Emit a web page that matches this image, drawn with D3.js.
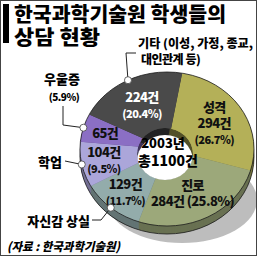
<!DOCTYPE html>
<html>
<head>
<meta charset="utf-8">
<script src="https://cdn.jsdelivr.net/npm/d3@7"></script>
<style>
  html, body { margin: 0; padding: 0; background: #fff; }
  svg { display: block; }
  text { font-family: "Noto Sans CJK KR", "Noto Sans", sans-serif; font-weight: 900; }
</style>
</head>
<body>
<script>
// chart data
const categories = ["성격", "진로", "자신감 상실", "학업", "우울증", "기타"];
const counts = [294, 284, 129, 104, 65, 224];
const percents = [26.7, 25.8, 11.7, 9.5, 5.9, 20.4];
const colors = ["#b4b058", "#9ca87a", "#93acab", "#aba6da", "#8b6fc4", "#4a4a4a"];
const titleLines = ["한국과학기술원 학생들의", "상담 현황"];
const centerLines = ["2003년", "총1100건"];
const etcDetail = ["기타 (이성, 가정, 종교,", "대인관계 등)"];
const sourceText = "(자료 : 한국과학기술원)";

const W = 258, H = 258;
const cx = 167, cy = 149, rx = 87, ry = 77, depth = 8;
const hole = { cx: 165, cy: 154, rx: 28, ry: 26, wall: 7 };

const svg = d3.select("body").append("svg")
    .attr("width", W)
    .attr("height", H);

const deg = Math.PI / 180;
const pie = d3.pie().sort(null).value(d => d)
    .startAngle(10 * deg).endAngle(370 * deg);
const slices = pie(counts);
const unitArc = d3.arc().innerRadius(0).outerRadius(1);

// point on the ellipse at angle a (clockwise from top) and relative radius r
function onEllipse(a, r) {
    return [cx + rx * r * Math.sin(a), cy - ry * r * Math.cos(a)];
}
function midAngle(d) { return (d.startAngle + d.endAngle) / 2; }

// shadow
svg.append("ellipse")
    .attr("cx", 182).attr("cy", 200)
    .attr("rx", 75).attr("ry", 43)
    .attr("fill", "#bdbdbd");

// 3d side: stack of darker pies
for (let k = depth; k >= 1; k--) {
    svg.append("g")
        .attr("transform", "translate(" + cx + "," + (cy + k) + ") scale(" + rx + "," + ry + ")")
        .selectAll("path")
        .data(slices)
        .enter().append("path")
        .attr("d", unitArc)
        .attr("fill", (d, i) => d3.color(colors[i]).darker(1.1));
}
svg.append("ellipse")
    .attr("cx", cx).attr("cy", cy + depth)
    .attr("rx", rx).attr("ry", ry)
    .attr("fill", "none").attr("stroke", "#1a1a1a").attr("stroke-width", 0.8);

// top face
svg.append("g")
    .attr("transform", "translate(" + cx + "," + cy + ") scale(" + rx + "," + ry + ")")
    .selectAll("path")
    .data(slices)
    .enter().append("path")
    .attr("d", unitArc)
    .attr("fill", (d, i) => colors[i]);
svg.append("ellipse")
    .attr("cx", cx).attr("cy", cy)
    .attr("rx", rx).attr("ry", ry)
    .attr("fill", "none").attr("stroke", "#1a1a1a").attr("stroke-width", 0.8);

// hole with visible inner wall
svg.append("clipPath").attr("id", "holeClip")
    .append("ellipse")
    .attr("cx", hole.cx).attr("cy", hole.cy)
    .attr("rx", hole.rx).attr("ry", hole.ry);
const holeG = svg.append("g").attr("clip-path", "url(#holeClip)");
holeG.append("g")
    .attr("transform", "translate(" + hole.cx + "," + hole.cy + ") scale(" + hole.rx + "," + hole.ry + ")")
    .selectAll("path")
    .data(slices)
    .enter().append("path")
    .attr("d", unitArc)
    .attr("fill", (d, i) => d3.color(colors[i]).darker(2.2));
holeG.append("ellipse")
    .attr("cx", hole.cx).attr("cy", hole.cy + hole.wall)
    .attr("rx", hole.rx).attr("ry", hole.ry)
    .attr("fill", "#fff");

// centre text
svg.append("text")
    .attr("x", 163).attr("y", 148)
    .attr("text-anchor", "middle")
    .attr("font-size", 13)
    .text(centerLines[0]);
svg.append("text")
    .attr("x", 168).attr("y", 166)
    .attr("text-anchor", "middle")
    .attr("font-size", 14)
    .text(centerLines[1]);

// labels inside slices
function labelLines(i) {
    const c = counts[i] + "건", p = "(" + percents[i] + "%)";
    if (i === 0) return [categories[i], c, p];
    if (i === 1) return [categories[i], c + " " + p];
    if (i === 4) return [c];
    return [c, p];
}
slices.forEach((d, i) => {
    const lines = labelLines(i);
    const r = percents[i] > 15 ? 0.64 : 0.74;
    const pos = onEllipse(midAngle(d), r);
    const lh = 16;
    const top = pos[1] - (lines.length - 1) * lh / 2;
    lines.forEach((t, j) => {
        svg.append("text")
            .attr("x", pos[0]).attr("y", top + j * lh + 5)
            .attr("text-anchor", "middle")
            .attr("font-size", t.startsWith("(") ? 11 : 13)
            .attr("letter-spacing", -0.6)
            .attr("fill", i === 5 ? "#fff" : "#111")
            .text(t);
    });
});

// outside labels with leader lines
const leader = d3.line();
function dotAt(i) { return onEllipse(midAngle(slices[i]), 1); }

const outside = [
    { i: 5, path: [[136, 53], [126, 53]] },
    { i: 4, path: [[63, 106], [63, 125]] },
    { i: 3, path: [[65, 161]] },
    { i: 2, path: [[92, 220], [101, 220]] }
];
outside.forEach(o => {
    const dot = dotAt(o.i);
    svg.append("path")
        .attr("d", leader(o.path.concat([dot])))
        .attr("fill", "none").attr("stroke", "#222").attr("stroke-width", 1);
    svg.append("circle")
        .attr("cx", dot[0]).attr("cy", dot[1]).attr("r", 3.5)
        .attr("fill", "#fff").attr("stroke", "#444").attr("stroke-width", 0.8);
});

// 기타 label
svg.append("text").attr("x", 138).attr("y", 48)
    .attr("font-size", 12).attr("textLength", 115).attr("lengthAdjust", "spacingAndGlyphs")
    .text(etcDetail[0]);
svg.append("text").attr("x", 141).attr("y", 64)
    .attr("font-size", 12).attr("letter-spacing", -0.5)
    .text(etcDetail[1]);
// 우울증 label
svg.append("text").attr("x", 62).attr("y", 84)
    .attr("text-anchor", "middle").attr("font-size", 13)
    .text(categories[4]);
svg.append("text").attr("x", 64).attr("y", 101)
    .attr("text-anchor", "middle").attr("font-size", 10).attr("letter-spacing", -0.5)
    .text("(" + percents[4] + "%)");
// 학업 label
svg.append("text").attr("x", 62).attr("y", 167)
    .attr("text-anchor", "end").attr("font-size", 13)
    .text(categories[3]);
// 자신감 상실 label
svg.append("text").attr("x", 90).attr("y", 226)
    .attr("text-anchor", "end").attr("font-size", 13)
    .text(categories[2]);

// title
svg.append("rect").attr("x", 3).attr("y", 4).attr("width", 6).attr("height", 39).attr("fill", "#000");
svg.append("text").attr("x", 14).attr("y", 22)
    .attr("font-size", 20).attr("textLength", 212).attr("lengthAdjust", "spacingAndGlyphs")
    .text(titleLines[0]);
svg.append("text").attr("x", 14).attr("y", 45)
    .attr("font-size", 20).attr("textLength", 86).attr("lengthAdjust", "spacingAndGlyphs")
    .text(titleLines[1]);

// source
svg.append("text").attr("x", 7).attr("y", 251)
    .attr("font-size", 12).attr("font-style", "italic")
    .attr("textLength", 113).attr("lengthAdjust", "spacingAndGlyphs")
    .text(sourceText);

// frame
svg.append("rect").attr("x", 0.5).attr("y", 0.5).attr("width", 256).attr("height", 255)
    .attr("fill", "none").attr("stroke", "#444").attr("stroke-width", 1);
</script>
</body>
</html>
